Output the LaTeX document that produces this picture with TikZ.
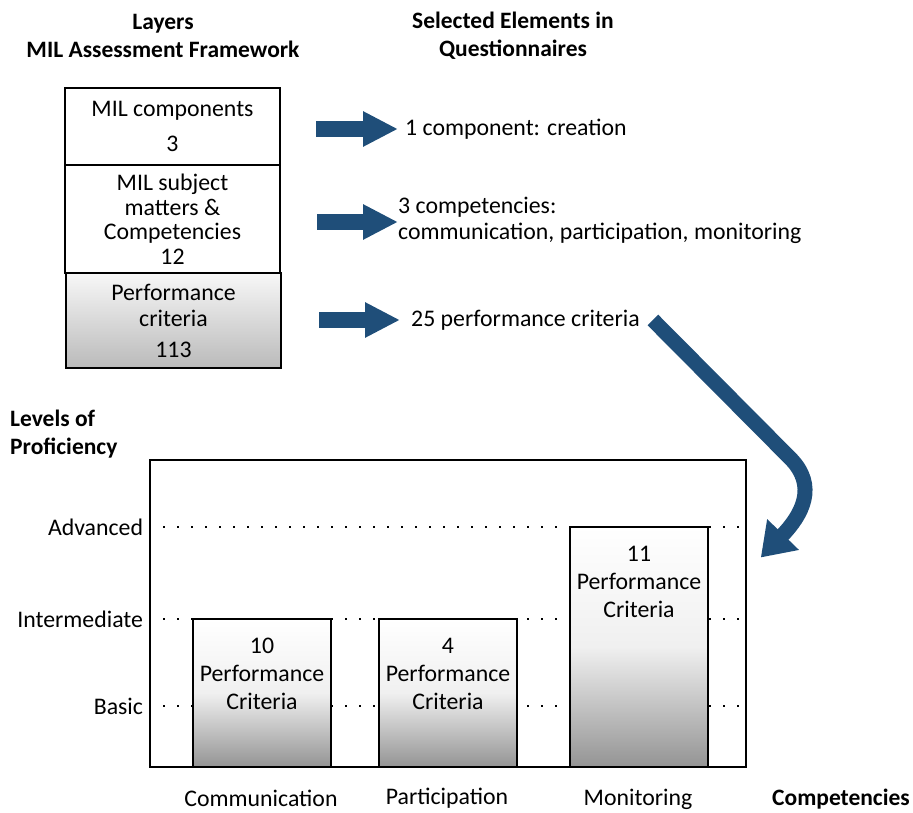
\documentclass[tikz,border=0pt]{standalone}
\usepackage{fontspec}
\setmainfont{Carlito}
\usepackage{xcolor}
\usepackage{tikz}
\usetikzlibrary{arrows.meta}
\usetikzlibrary{positioning}
\usetikzlibrary{calc}
\definecolor{arrowblue}{RGB}{31,78,121}

\begin{document}
\begin{tikzpicture}[x=1pt,y=-1pt,
        txt/.style={font=\fontsize{23.8}{26}\selectfont,inner sep=0pt},
        head/.style={inner sep=0pt,font=\fontsize{23.5}{28}\selectfont\bfseries,align=center},
        layer/.style={draw,line width=1.6pt,minimum width=215pt,align=center,txt},
        bar/.style={draw,line width=1.6pt,minimum width=138pt,top color=white,bottom color=black!42,middle color=black!6},
        bartxt/.style={inner sep=0pt,font=\fontsize{23.8}{28}\selectfont,align=center},
        level/.style={dash pattern=on 2pt off 12pt,line width=2pt},
        fatarrow/.style={arrowblue,line width=16pt,-{Triangle[length=35pt,width=33pt]}},
        bendarrow/.style={arrowblue,line width=15pt,-{Triangle[length=32pt,width=42pt]}}]
            \useasboundingbox (0,0) rectangle (913,813);

            % titles
            \node[head] (layers) at (163,36) {Layers\\MIL Assessment Framework};
            \node[head] (selected) at (513,36) {Selected Elements in\\Questionnaires};

            % layers of the framework
            \node[layer,minimum height=77pt] (comp) at (172.5,126.5) {MIL components\\[9pt]3};
            \node[layer,minimum height=108pt,font=\fontsize{23.8}{24.5}\selectfont] (subj) at (172.5,219) {MIL subject\\matters \&\\Competencies\\12};
            \node[layer,minimum height=95pt,top color=black!3,bottom color=black!27] (crit) at (173.5,320.5) {Performance\\criteria\\[5pt]113};

            % selected elements
            \node[txt,anchor=west] (sel1) at (405,129) {1 component: creation};
            \node[txt,anchor=west,align=left] (sel2) at (398,220) {3 competencies:\\communication, participation, monitoring};
            \node[txt,anchor=west] (sel3) at (411,320) {25 performance criteria};

            \draw[fatarrow] ([xshift=-89pt]sel1.west) -- ([xshift=-7pt]sel1.west);
            \draw[fatarrow] ([xshift=-81pt,yshift=-2pt]sel2.west) -- ([yshift=-2pt]sel2.west);
            \draw[fatarrow] ([xshift=-92pt]sel3.west) -- ([xshift=-11pt]sel3.west);

            % proficiency chart
            \node[head,align=left,anchor=west] (levels) at (10,434) {Levels of\\Proficiency};
            \node[draw,line width=1.6pt,minimum width=596pt,minimum height=307pt] (frame) at (448,613.5) {};
            \foreach \lvl/\y in {Advanced/527,Intermediate/619,Basic/706}{
                \draw[level] (frame.west |- 0,\y) -- (frame.east |- 0,\y);
                \node[txt,anchor=east] (\lvl) at ([xshift=-6pt]frame.west |- 0,\y) {\lvl};
            }

            \node[bar,minimum height=148pt] (comm) at (262,693) {};
            \node[bar,minimum height=148pt] (part) at (448,693) {};
            \node[bar,minimum height=240pt] (moni) at (639,647) {};
            \node[bartxt,below=20pt of comm.north] (commtxt) {10\\Performance\\Criteria};
            \node[bartxt,below=20pt of part.north] (parttxt) {4\\Performance\\Criteria};
            \node[bartxt,below=20pt of moni.north] (monitxt) {11\\Performance\\Criteria};

            \node[txt] (commlbl) at (261,798) {Communication};
            \node[txt] (partlbl) at (447,798) {Participation};
            \node[txt] (monilbl) at (638,799) {Monitoring};
            \node[head,anchor=east] (compet) at (910,799) {Competencies};

            \coordinate (bendstart) at ([xshift=13pt]sel3.east);
            \draw[bendarrow] (bendstart) -- (790,458) .. controls (818,486) and (802,515) .. ([xshift=14pt,yshift=56pt]frame.east);
        \end{tikzpicture}
\end{document}
